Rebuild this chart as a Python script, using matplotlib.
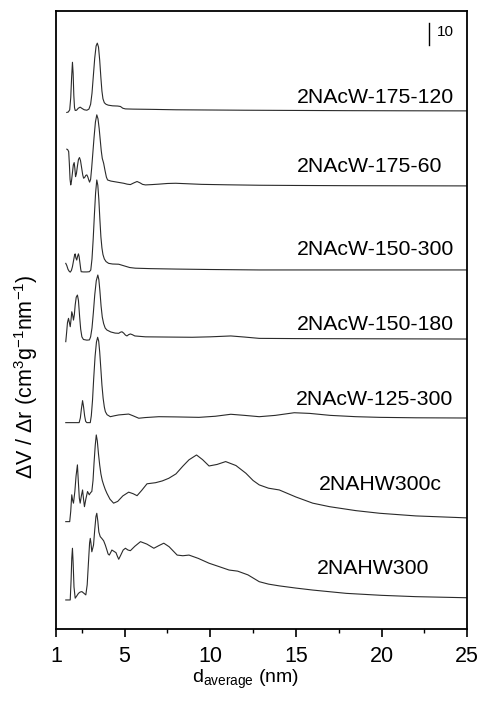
import numpy as np
import matplotlib
matplotlib.use('Agg')
import matplotlib.pyplot as plt
from matplotlib.ticker import FixedLocator

plt.rcParams['font.family'] = ['Liberation Sans', 'DejaVu Sans']
plt.rcParams['mathtext.fontset'] = 'custom'
plt.rcParams['mathtext.rm'] = 'Liberation Sans'
plt.rcParams['mathtext.it'] = 'Liberation Sans:italic'

# pore size distributions, d in nm, dV/dr in scale-bar units (bar = 10)
names = ['2NAcW-175-120', '2NAcW-175-60', '2NAcW-150-300', '2NAcW-150-180',
         '2NAcW-125-300', '2NAHW300c', '2NAHW300']
offsets = [235.5, 201.4, 163.2, 131.8, 95.9, 50.5, 14.1]

d_175_120 = [1.63, 1.72, 1.80, 1.86, 1.91, 1.96, 2.00, 2.04, 2.08, 2.12, 2.20, 2.30, 2.41,
             2.52, 2.65, 2.80, 2.92, 3.02, 3.10, 3.18, 3.26, 3.34, 3.41, 3.48, 3.55, 3.62,
             3.68, 3.74, 3.82, 3.92, 4.05, 4.30, 4.60, 4.76, 4.90, 5.05, 5.50, 6.50, 8.00,
             10.0, 12.0, 15.0, 18.0, 21.0, 25.0]
v_175_120 = [-0.7, -0.5, 0.5, 6.0, 15.0, 22.1, 17.0, 7.0, 1.5, 0.2, 0.3, 1.2, 1.7,
             1.1, 0.5, 0.3, 0.8, 3.0, 8.0, 16.0, 24.0, 29.5, 30.8, 29.0, 23.0, 15.0,
             9.0, 5.5, 3.7, 3.0, 2.6, 2.3, 2.2, 2.0, 1.2, 0.9, 0.8, 0.7, 0.5,
             0.4, 0.3, 0.2, 0.1, 0.05, 0.0]

d_175_60 = [1.63, 1.68, 1.74, 1.78, 1.82, 1.86, 1.90, 1.96, 2.01, 2.06, 2.10, 2.14, 2.19,
            2.25, 2.31, 2.37, 2.43, 2.50, 2.56, 2.61, 2.67, 2.74, 2.80, 2.86, 2.92, 2.96,
            3.02, 3.08, 3.15, 3.22, 3.30, 3.38, 3.45, 3.52, 3.58, 3.64, 3.70, 3.78, 3.86,
            3.94, 4.01, 4.20, 4.50, 4.95, 5.15, 5.34, 5.55, 5.73, 5.90, 6.05, 6.22, 6.60,
            7.00, 7.50, 7.98, 8.60, 9.50, 11.0, 12.86, 15.0, 18.0, 25.0]
v_175_60 = [16.7, 16.5, 15.6, 10.0, 3.0, 0.45, 2.0, 6.0, 9.5, 10.6, 8.0, 4.2, 5.5,
            9.0, 12.0, 12.9, 11.5, 8.0, 5.0, 3.5, 3.8, 4.8, 5.0, 4.0, 2.5, 1.7,
            3.0, 8.0, 15.0, 22.0, 29.0, 32.3, 30.5, 26.0, 21.0, 16.0, 12.5, 10.3, 7.0,
            4.0, 2.7, 2.2, 1.8, 1.2, 0.8, 0.6, 1.4, 2.0, 1.4, 0.7, 0.45, 0.6,
            0.8, 1.1, 1.2, 1.0, 0.7, 0.5, 0.3, 0.2, 0.1, 0.0]

d_150_300 = [1.57, 1.63, 1.70, 1.77, 1.83, 1.90, 1.96, 2.03, 2.09, 2.12, 2.16, 2.21, 2.26,
             2.31, 2.35, 2.40, 2.44, 2.47, 2.60, 2.80, 2.95, 3.03, 3.10, 3.17, 3.24, 3.31,
             3.38, 3.44, 3.50, 3.56, 3.62, 3.68, 3.74, 3.82, 3.92, 4.07, 4.30, 4.66, 5.00,
             5.30, 5.63, 6.50, 8.00, 10.0, 12.86, 25.0]
v_150_300 = [3.0, 2.0, 0.3, -0.6, -1.0, -0.2, 1.5, 4.5, 7.0, 7.3, 5.5, 4.5, 6.2,
             7.3, 6.0, 3.0, 0.5, -0.8, -0.9, -0.9, -0.8, 0.0, 5.0, 14.0, 25.0, 35.0,
             40.9, 38.5, 32.0, 23.0, 15.0, 10.0, 7.0, 5.0, 3.8, 3.0, 2.7, 2.6, 1.8,
             1.1, 0.8, 0.6, 0.4, 0.2, 0.0, 0.0]

d_150_180 = [1.57, 1.62, 1.67, 1.73, 1.78, 1.83, 1.88, 1.92, 1.97, 2.02, 2.07, 2.12, 2.18,
             2.25, 2.31, 2.38, 2.44, 2.51, 2.60, 2.80, 2.95, 3.02, 3.10, 3.18, 3.26, 3.35,
             3.44, 3.50, 3.56, 3.63, 3.70, 3.78, 3.87, 3.97, 4.20, 4.45, 4.66, 4.76, 4.85,
             4.95, 5.05, 5.14, 5.24, 5.34, 5.45, 5.60, 6.22, 7.50, 8.95, 10.0, 11.2, 12.0,
             12.86, 15.0, 25.0]
v_150_180 = [-1.2, 3.0, 7.5, 9.4, 7.5, 5.6, 9.0, 12.4, 11.0, 8.6, 11.0, 15.5, 19.0,
             20.0, 17.5, 10.0, 4.5, 1.0, -0.2, -0.5, -0.4, 1.0, 5.0, 12.0, 20.0, 26.5,
             29.1, 27.0, 22.0, 15.0, 10.0, 7.0, 5.0, 4.1, 3.2, 2.7, 2.6, 3.1, 3.3,
             2.7, 1.8, 1.4, 2.0, 2.3, 2.0, 1.4, 1.0, 0.9, 0.8, 1.0, 1.4, 0.9,
             0.3, 0.2, 0.0]

d_125_300 = [1.57, 2.35, 2.42, 2.48, 2.55, 2.61, 2.67, 2.73, 2.80, 3.00, 3.06, 3.13, 3.20,
             3.28, 3.36, 3.43, 3.49, 3.55, 3.62, 3.68, 3.75, 3.82, 3.88, 3.98, 4.17, 4.40,
             4.66, 4.95, 5.24, 5.50, 5.83, 6.20, 7.00, 8.00, 9.34, 10.3, 11.2, 12.0, 12.86,
             13.8, 14.9, 15.8, 17.0, 18.5, 19.89, 22.0, 25.0]
v_125_300 = [-2.1, -2.1, 0.0, 4.0, 7.9, 5.0, 1.0, -1.5, -2.1, -2.1, 1.0, 8.0, 18.0,
             28.0, 34.5, 36.7, 35.0, 30.0, 22.0, 15.0, 9.0, 5.0, 2.9, 1.5, 0.6, 1.0,
             1.4, 1.6, 1.8, 1.0, -0.1, 0.2, 0.6, 0.5, 0.3, 0.8, 1.7, 1.2, 0.6,
             1.2, 2.4, 2.1, 1.2, 0.6, 0.3, 0.1, 0.0]

d_hw300c = [1.57, 1.80, 1.86, 1.92, 1.97, 2.02, 2.10, 2.17, 2.25, 2.30, 2.36, 2.41, 2.48,
            2.55, 2.60, 2.66, 2.74, 2.84, 2.94, 3.02, 3.09, 3.16, 3.22, 3.29, 3.35, 3.41,
            3.48, 3.55, 3.62, 3.70, 3.78, 3.87, 3.97, 4.15, 4.36, 4.60, 4.90, 5.24, 5.50,
            5.73, 6.00, 6.31, 6.81, 7.20, 7.58, 8.00, 8.40, 8.76, 9.20, 9.55, 9.93, 10.4,
            10.9, 11.5, 12.08, 12.5, 12.86, 13.4, 14.03, 15.0, 15.98, 16.96, 18.5, 19.89,
            22.0, 25.0]
v_hw300c = [-1.7, -1.7, 3.0, 10.5, 8.0, 6.7, 12.0, 19.0, 24.1, 17.0, 9.0, 6.7, 10.0,
            12.7, 9.0, 5.1, 8.5, 12.0, 10.5, 11.5, 12.0, 17.0, 25.0, 33.0, 37.7, 35.0,
            29.0, 24.0, 20.0, 17.0, 15.0, 13.0, 11.2, 8.5, 6.7, 7.5, 10.0, 11.7, 11.0,
            10.1, 12.5, 15.5, 16.0, 16.8, 18.0, 20.0, 23.5, 26.4, 28.6, 26.5, 23.6, 24.3,
            25.6, 23.8, 20.3, 17.0, 15.0, 13.5, 12.7, 9.5, 6.7, 5.1, 3.3, 2.1,
            0.9, 0.0]

d_hw300 = [1.57, 1.83, 1.88, 1.92, 1.96, 2.00, 2.05, 2.12, 2.20, 2.31, 2.41, 2.51, 2.62,
           2.74, 2.82, 2.90, 2.96, 3.00, 3.04, 3.09, 3.14, 3.19, 3.26, 3.33, 3.38, 3.44,
           3.50, 3.58, 3.68, 3.78, 3.88, 3.97, 4.04, 4.11, 4.18, 4.26, 4.38, 4.50, 4.58,
           4.66, 4.78, 4.92, 5.05, 5.20, 5.34, 5.60, 5.93, 6.30, 6.71, 7.00, 7.29, 7.60,
           8.07, 8.40, 8.76, 9.30, 9.93, 10.5, 11.10, 11.6, 12.2, 12.86, 13.4, 14.03,
           15.0, 15.98, 17.94, 20.0, 22.0, 25.0]
v_hw300 = [-0.9, -0.9, 8.0, 18.0, 22.6, 16.0, 5.0, -0.1, 0.8, 2.1, 2.7, 2.9, 2.2,
           1.4, 6.0, 17.0, 25.0, 27.1, 25.0, 21.0, 22.5, 24.1, 31.0, 37.0, 38.5, 35.0,
           30.0, 27.9, 27.0, 26.0, 24.0, 21.8, 20.0, 19.5, 20.5, 21.8, 21.2, 20.6, 19.0,
           17.6, 19.5, 21.8, 22.6, 21.8, 21.5, 23.5, 25.6, 24.5, 22.6, 23.8, 24.9, 23.3,
           19.5, 19.2, 19.5, 18.0, 15.8, 14.3, 12.7, 12.2, 10.5, 7.4, 6.3, 5.5,
           4.5, 3.6, 2.1, 1.2, 0.6, 0.1]

curves = [(d_175_120, v_175_120), (d_175_60, v_175_60), (d_150_300, v_150_300),
          (d_150_180, v_150_180), (d_125_300, v_125_300), (d_hw300c, v_hw300c),
          (d_hw300, v_hw300)]

# label placement (data coords, left edge / vertical centre)
label_x = [15.06, 15.05, 15.06, 15.06, 15.0, 16.34, 16.23]
label_y = [241.8, 210.0, 172.4, 138.2, 104.5, 65.5, 27.3]

fig = plt.figure(figsize=(4.8, 7.04), dpi=100)
ax = fig.add_axes([56 / 480, 1 - 629 / 704, 411.3 / 480, 618 / 704])

for (d, v), off in zip(curves, offsets):
    ax.plot(d, np.array(v) + off, color='#2a2a2a', lw=0.8)

for name, lx, ly in zip(names, label_x, label_y):
    ax.text(lx, ly, name, ha='left', va='center', fontsize=15.3)

# scale bar: 10 units
ax.plot([22.76, 22.76], [265.5, 275.5], color='black', lw=1.0)
ax.text(23.2, 271.5, '10', ha='left', va='center', fontsize=11)

ax.set_xlim(1, 25)
ax.set_ylim(0, 280.9)
ax.xaxis.set_major_locator(FixedLocator([1, 5, 10, 15, 20, 25]))
ax.xaxis.set_minor_locator(FixedLocator([2.5, 7.5, 12.5, 17.5, 22.5]))
ax.tick_params(axis='x', which='major', direction='out', length=6, width=1.2,
               labelsize=15.5, pad=6)
ax.tick_params(axis='x', which='minor', direction='out', length=3, width=1.0)
ax.set_yticks([])
for s in ax.spines.values():
    s.set_linewidth(1.3)

ax.set_xlabel(r'd$_{\mathregular{average}}$ (nm)', fontsize=14)
ax.xaxis.set_label_coords(0.46, -0.062)
ax.set_ylabel('\u0394V / \u0394r (cm$^{\\mathregular{3}}$g$^{\\mathregular{-1}}$nm$^{\\mathregular{-1}}$)',
              fontsize=15.5)
ax.yaxis.set_label_coords(-0.04, 0.408)

fig.savefig('out.png', dpi=100)
